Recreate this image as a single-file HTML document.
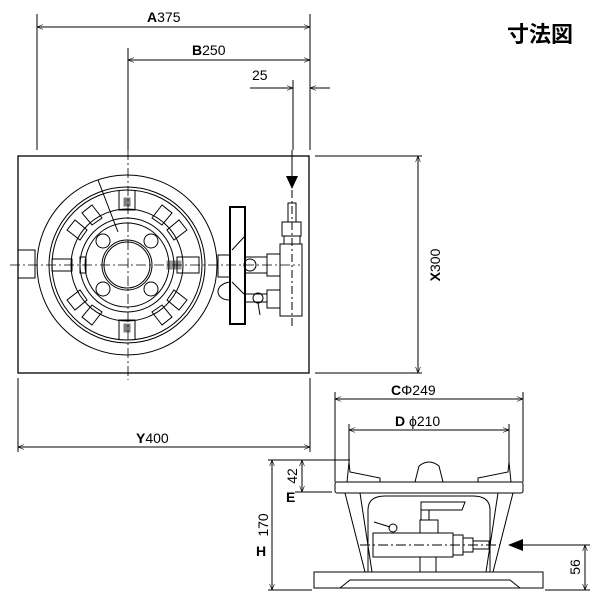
<!DOCTYPE html>
<html><head><meta charset="utf-8"><style>
html,body{margin:0;padding:0;background:#fff;width:600px;height:600px;overflow:hidden}
svg{display:block}
text{font-family:"Liberation Sans","Noto Sans CJK JP",sans-serif;fill:#000}
</style></head><body>
<svg width="600" height="600" viewBox="0 0 600 600" xmlns="http://www.w3.org/2000/svg">
<defs>
<marker id="ao" viewBox="0 0 10 10" refX="10" refY="5" markerWidth="10" markerHeight="6" orient="auto-start-reverse" markerUnits="userSpaceOnUse"><path d="M0,1 L10,5 L0,9" fill="none" stroke="#000" stroke-width="1"/></marker>
</defs>
<g stroke="#000" stroke-width="1" fill="none">
<!-- top dims -->
<line x1="37" y1="14" x2="37" y2="150"/>
<line x1="310" y1="14" x2="310" y2="150"/>
<line x1="128" y1="48" x2="128" y2="150"/>
<line x1="293" y1="80" x2="293" y2="150"/>
<line x1="37" y1="27" x2="310" y2="27" marker-start="url(#ao)" marker-end="url(#ao)"/>
<line x1="128" y1="60" x2="310" y2="60" marker-start="url(#ao)" marker-end="url(#ao)"/>
<line x1="250" y1="88" x2="293" y2="88" marker-end="url(#ao)"/>
<line x1="330" y1="88" x2="310" y2="88" marker-end="url(#ao)"/>
<!-- plan rect -->
<rect x="18" y="156" width="291" height="217" stroke-width="1.3"/>
<line x1="315" y1="156" x2="422" y2="156"/>
<line x1="315" y1="373" x2="422" y2="373"/>
<line x1="418" y1="156" x2="418" y2="373" marker-start="url(#ao)" marker-end="url(#ao)"/>
<line x1="18" y1="378" x2="18" y2="452"/>
<line x1="310" y1="378" x2="310" y2="452"/>
<line x1="18" y1="447" x2="310" y2="447" marker-start="url(#ao)" marker-end="url(#ao)"/>
<!-- burner plan -->
<circle cx="127" cy="265" r="90"/>
<circle cx="127" cy="265" r="78"/>
<circle cx="127" cy="265" r="75"/>
<circle cx="127" cy="265" r="56"/>
<circle cx="127" cy="265" r="47"/>
<circle cx="127" cy="265" r="42"/>
<circle cx="127" cy="265" r="25"/>
<circle cx="127" cy="265" r="23"/>
<circle cx="103" cy="241" r="7"/><circle cx="151" cy="241" r="7"/>
<circle cx="103" cy="289" r="7"/><circle cx="151" cy="289" r="7"/>
<g transform="translate(127,265)">
<path d="M-8,-75 L-8,-55 L8,-55 L8,-75 M-8,75 L-8,55 L8,55 L8,75"/>
<rect x="-3" y="-67" width="6" height="8" fill="#000" opacity=".5"/>
<rect x="-3" y="59" width="6" height="8" fill="#000" opacity=".5"/>
<path d="M-35,-60 L-25,-47 L-35,-40 L-45,-52 Z M35,-60 L25,-47 L35,-40 L45,-52 Z M-35,60 L-25,47 L-35,40 L-45,52 Z M35,60 L25,47 L35,40 L45,52 Z"/>
<path d="M-60,-35 L-47,-25 L-40,-35 L-52,-45 Z M60,-35 L47,-25 L40,-35 L52,-45 Z M-60,35 L-47,25 L-40,35 L-52,45 Z M60,35 L47,25 L40,35 L52,45 Z"/>
<rect x="-75" y="-6" width="20" height="12"/><rect x="50" y="-8" width="22" height="16"/>
<rect x="-47" y="-8" width="6" height="16"/>
<rect x="40" y="-4" width="14" height="8" fill="#000" opacity=".4"/>
</g>
<rect x="18" y="250" width="17" height="28"/>
<line x1="10" y1="265" x2="300" y2="265" stroke-dasharray="10,3,2,3" stroke-width=".8"/>
<line x1="128" y1="150" x2="128" y2="380" stroke-dasharray="10,3,2,3" stroke-width=".8"/>
<line x1="98" y1="180" x2="118" y2="232"/>
<!-- gas fittings plan -->
<rect x="218" y="255" width="12" height="22"/>
<rect x="230" y="207" width="15" height="117" stroke-width="2"/>
<path d="M245,236 L232,250 M245,295 L232,282"/>
<rect x="245" y="257" width="22" height="16"/>
<circle cx="250" cy="265" r="6"/>
<rect x="267" y="254" width="13" height="22"/>
<rect x="245" y="294" width="22" height="8"/>
<circle cx="258" cy="298" r="5"/>
<line x1="258" y1="303" x2="260" y2="315"/>
<rect x="267" y="290" width="13" height="18"/>
<path d="M230,282 C214,284 214,300 230,300"/>
<rect x="280" y="244" width="22" height="72"/>
<rect x="282" y="222" width="19" height="14"/>
<rect x="284" y="236" width="16" height="8"/>
<rect x="288" y="203" width="8" height="19"/>
<line x1="292" y1="150" x2="292" y2="178"/>
<line x1="292" y1="190" x2="292" y2="328" stroke-dasharray="8,3,2,3"/>
<!-- side view dims -->
<line x1="335" y1="392" x2="335" y2="482"/>
<line x1="523" y1="392" x2="523" y2="482"/>
<line x1="335" y1="399" x2="523" y2="399" marker-start="url(#ao)" marker-end="url(#ao)"/>
<line x1="349" y1="424" x2="349" y2="462"/>
<line x1="509" y1="424" x2="509" y2="462"/>
<line x1="349" y1="430" x2="509" y2="430" marker-start="url(#ao)" marker-end="url(#ao)"/>
<line x1="268" y1="460" x2="350" y2="460"/>
<line x1="295" y1="492" x2="332" y2="492"/>
<line x1="268" y1="590" x2="312" y2="590"/>
<line x1="272" y1="460" x2="272" y2="590" marker-start="url(#ao)" marker-end="url(#ao)"/>
<line x1="302" y1="460" x2="302" y2="492" marker-start="url(#ao)" marker-end="url(#ao)"/>
<line x1="545" y1="590" x2="590" y2="590"/>
<line x1="523" y1="545" x2="590" y2="545"/>
<line x1="585" y1="545" x2="585" y2="590" marker-start="url(#ao)" marker-end="url(#ao)"/>
<!-- side body -->
<rect x="335" y="482" width="188" height="11" rx="2"/>
<path d="M347,482 L349,462 L350,472 L380,478 L380,482 M511,482 L509,462 L508,472 L478,478 L478,482"/>
<path d="M415,482 L419,466 Q429,458 439,466 L443,482"/>
<path d="M345,493 L365,572 M360,493 L372,572 M513,493 L493,572 M498,493 L486,572"/>
<path d="M368,572 L368,510 Q368,496 385,496 L473,496 Q490,496 490,510 L490,572"/>
<rect x="373" y="533" width="80" height="24"/>
<rect x="453" y="535" width="10" height="20"/>
<rect x="463" y="538" width="10" height="14"/>
<rect x="473" y="541" width="16" height="8"/>
<rect x="420" y="520" width="18" height="13"/>
<rect x="421" y="510" width="8" height="10"/>
<path d="M421,510 L421,502 L465,502 L462,510 Z"/>
<circle cx="393" cy="528" r="4"/>
<line x1="374" y1="522" x2="390" y2="527"/>
<rect x="420" y="557" width="16" height="15"/>
<path d="M314,588 L314,572 L543,572 L543,588 Z M340,588 L350,580 L510,580 L520,588"/>
<line x1="360" y1="545" x2="500" y2="545" stroke-dasharray="10,3,2,3"/>
</g>
<path d="M286,176 L298,176 L292,189 Z" fill="#000"/>
<path d="M508,545 L523,539 L523,551 Z" fill="#000"/>
<g font-size="14">
<text x="147" y="22"><tspan font-weight="bold">A</tspan>375</text>
<text x="192" y="55"><tspan font-weight="bold">B</tspan>250</text>
<text x="252" y="80">25</text>
<text x="391" y="395"><tspan font-weight="bold">C</tspan>Φ249</text>
<text x="395" y="426"><tspan font-weight="bold">D</tspan> ϕ210</text>
<text transform="translate(440,265) rotate(-90)" text-anchor="middle"><tspan font-weight="bold">X</tspan>300</text>
<text x="136" y="443"><tspan font-weight="bold">Y</tspan>400</text>
<text transform="translate(297,476) rotate(-90)" text-anchor="middle">42</text>
<text x="286" y="502" font-weight="bold">E</text>
<text transform="translate(268,525) rotate(-90)" text-anchor="middle">170</text>
<text x="256" y="556" font-weight="bold">H</text>
<text transform="translate(580,567) rotate(-90)" text-anchor="middle">56</text>
</g>
<text x="507" y="42" font-size="22" font-weight="bold">寸法図</text>
</svg>
</body></html>
